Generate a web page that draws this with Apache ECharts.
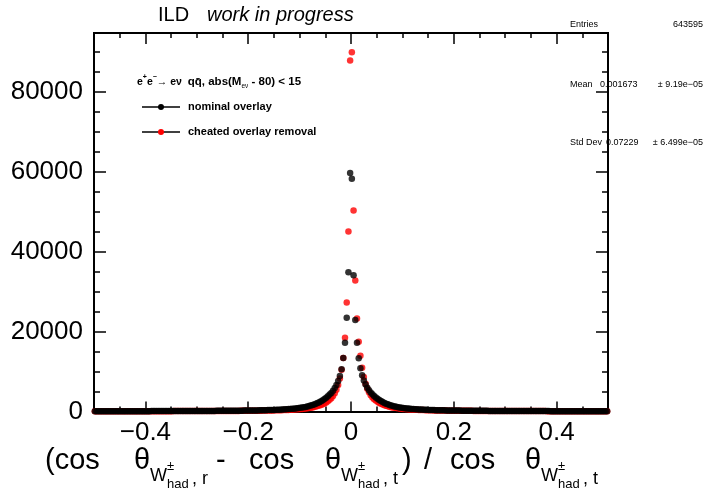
<!DOCTYPE html>
<html>
<head>
<meta charset="utf-8">
<script src="https://cdn.jsdelivr.net/npm/echarts@6/dist/echarts.min.js"></script>
<style>
html,body{margin:0;padding:0;background:#fff;}
#chart{width:705px;height:490px;}
</style>
</head>
<body>
<div id="chart"></div>
<script>
// Histogram binning: 300 bins over [-0.5, 0.5]
const nBins = 300;
const xLow = -0.5;
const xHigh = 0.5;

// Tick labels
const xTickValues = [-0.4, -0.2, 0, 0.2, 0.4];
const yTickValues = [0, 20000, 40000, 60000, 80000];

// "nominal overlay" (black) — counts going outward from x=0
const blackNegFromCenter = [
59600, 34800, 23450, 17200, 13400, 10550, 8900, 7650, 6650, 5850,
5200, 4650, 4220, 3830, 3460, 3130, 2830, 2570, 2330, 2120,
1930, 1760, 1610, 1480, 1360, 1250, 1155, 1070, 995, 925,
862, 806, 756, 710, 668, 630, 596, 564, 535, 509,
484, 462, 441, 422, 404, 387, 372, 358, 344, 332,
320, 309, 299, 289, 280, 272, 264, 256, 249, 242,
236, 230, 224, 218, 213, 208, 203, 199, 194, 190,
186, 182, 178, 175, 171, 168, 165, 162, 159, 156,
153, 151, 148, 146, 143, 141, 139, 136, 134, 132,
130, 128, 126, 125, 123, 121, 119, 118, 116, 115,
113, 112, 110, 109, 108, 106, 105, 104, 103, 101,
100, 99, 98, 97, 96, 95, 94, 93, 92, 91,
90, 89, 88, 88, 87, 86, 85, 84, 84, 83,
82, 81, 81, 80, 79, 79, 78, 77, 77, 76,
75, 75, 74, 74, 73, 72, 72, 71, 71, 70];
const blackPosFromCenter = [
58200, 34050, 22900, 17200, 13300, 10800, 9050, 7750, 6750, 5950,
5300, 4750, 4300, 3900, 3520, 3180, 2870, 2600, 2360, 2150,
1960, 1790, 1640, 1500, 1380, 1270, 1170, 1085, 1010, 940,
875, 820, 768, 722, 680, 641, 606, 574, 545, 518,
493, 470, 449, 429, 411, 394, 378, 364, 350, 337,
325, 314, 303, 293, 284, 275, 267, 259, 252, 245,
238, 232, 226, 220, 215, 210, 205, 200, 196, 191,
187, 183, 179, 176, 172, 169, 166, 163, 160, 157,
154, 151, 149, 146, 144, 141, 139, 137, 135, 133,
131, 129, 127, 125, 123, 121, 120, 118, 116, 115,
113, 112, 110, 109, 107, 106, 105, 103, 102, 101,
100, 98, 97, 96, 95, 94, 93, 92, 91, 90,
89, 88, 87, 86, 85, 85, 84, 83, 82, 81,
81, 80, 79, 78, 78, 77, 76, 76, 75, 74,
74, 73, 72, 72, 71, 71, 70, 69, 69, 68];

// "cheated overlay removal" (red) — counts going outward from x=0
const redNegFromCenter = [
87700, 45000, 27250, 18450, 13400, 10450, 8250, 6650, 5450, 4550,
3870, 3340, 2920, 2570, 2280, 2030, 1820, 1640, 1480, 1345,
1225, 1120, 1028, 946, 873, 808, 750, 698, 651, 609,
571, 537, 506, 478, 452, 428, 406, 386, 368, 351,
336, 321, 308, 296, 284, 273, 263, 254, 245, 237,
229, 222, 215, 209, 203, 197, 192, 187, 182, 177,
173, 169, 165, 161, 158, 155, 152, 149, 146, 143,
140, 138, 136, 133, 131, 129, 127, 125, 123, 122,
120, 118, 117, 115, 114, 112, 111, 110, 108, 107,
106, 105, 104, 103, 102, 101, 100, 99, 98, 97,
96, 95, 94, 94, 93, 92, 91, 91, 90, 89,
89, 88, 87, 87, 86, 85, 85, 84, 84, 83,
83, 82, 81, 81, 80, 80, 79, 79, 78, 78,
77, 77, 77, 76, 76, 75, 75, 74, 74, 74,
73, 73, 72, 72, 72, 71, 71, 71, 70, 70];
const redPosFromCenter = [
89800, 50250, 32750, 23250, 17450, 13950, 10950, 8650, 6950, 5700,
4780, 4080, 3530, 3080, 2720, 2410, 2150, 1930, 1740, 1570,
1430, 1300, 1190, 1090, 1005, 930, 862, 801, 746, 697,
652, 612, 576, 543, 513, 486, 461, 438, 417, 398,
380, 363, 348, 334, 321, 309, 297, 287, 277, 268,
259, 251, 243, 236, 229, 223, 217, 211, 206, 201,
196, 191, 187, 183, 179, 175, 171, 168, 165, 162,
159, 156, 153, 150, 148, 145, 143, 141, 139, 137,
135, 133, 131, 129, 127, 126, 124, 122, 121, 119,
118, 117, 115, 114, 113, 111, 110, 109, 108, 107,
106, 105, 104, 103, 102, 101, 100, 99, 98, 97,
96, 95, 95, 94, 93, 92, 92, 91, 90, 89,
89, 88, 87, 87, 86, 85, 85, 84, 84, 83,
82, 82, 81, 81, 80, 80, 79, 79, 78, 78,
77, 77, 76, 76, 75, 75, 74, 74, 73, 73];

// Stats box
const statsEntries = "643595";
const statsMean = ["0.001673", "\u00b1 9.19e\u221205"];
const statsStd = ["0.07229", "\u00b1 6.499e\u221205"];

function toPoints(neg, pos) {
  const counts = neg.slice().reverse().concat(pos);
  const w = (xHigh - xLow) / nBins;
  return counts.map((c, i) => [xLow + (i + 0.5) * w, c]);
}
const blackData = toPoints(blackNegFromCenter, blackPosFromCenter);
const redData = toPoints(redNegFromCenter, redPosFromCenter);

const minorX = [];
for (let k = -9; k <= 9; k++) minorX.push(Math.round(k * 5) / 100);
const minorY = [];
for (let v = 0; v <= 90000; v += 5000) minorY.push(v);

const FONT = '"Liberation Sans", Arial, Helvetica, sans-serif';
const fmtMinus = v => (v < 0 ? '\u2212' + String(Math.abs(v)) : String(v));

function tickAxis(dim, pos, values, len, opts) {
  const base = {
    type: 'value',
    position: pos,
    min: dim === 'x' ? xLow : 0,
    max: dim === 'x' ? xHigh : 94600,
    gridIndex: 0,
    axisLine: { show: true, onZero: false, lineStyle: { color: '#000', width: 2 } },
    axisTick: { show: true, inside: true, length: len, customValues: values,
                lineStyle: { color: '#000', width: 1.5 } },
    axisLabel: { show: false },
    splitLine: { show: false },
    silent: true
  };
  return Object.assign(base, opts || {});
}

const xAxes = [
  tickAxis('x', 'bottom', xTickValues, 10, {
    axisLabel: { show: true, customValues: xTickValues, formatter: fmtMinus,
                 fontSize: 26, color: '#000', fontFamily: FONT, margin: 8 }
  }),
  tickAxis('x', 'bottom', minorX, 5),
  tickAxis('x', 'top', xTickValues, 11),
  tickAxis('x', 'top', minorX, 5)
];
const yAxes = [
  tickAxis('y', 'left', yTickValues, 12, {
    axisLabel: { show: true, customValues: yTickValues, formatter: v => String(v),
                 fontSize: 26, color: '#000', fontFamily: FONT, margin: 11 }
  }),
  tickAxis('y', 'left', minorY, 6),
  tickAxis('y', 'right', yTickValues, 12),
  tickAxis('y', 'right', minorY, 6)
];

const graphics = [];
function txt(x, y, text, size, extra) {
  graphics.push({
    type: 'text', x: x, y: y, silent: true,
    style: Object.assign({ text: text, fontSize: size, fontFamily: FONT, fill: '#000',
                           align: 'left', verticalAlign: 'middle' }, extra || {})
  });
}
// Title
txt(158, 15, 'ILD', 20);
txt(207, 15, 'work in progress', 20, { fontStyle: 'italic' });

// Stats box
txt(570, 25, 'Entries', 9);
txt(703, 25, statsEntries, 9, { align: 'right' });
txt(570, 85, 'Mean', 9);
txt(600, 85, statsMean[0], 9);
txt(703, 85, statsMean[1], 9, { align: 'right' });
txt(570, 143, 'Std Dev', 9);
txt(606, 143, statsStd[0], 9);
txt(703, 143, statsStd[1], 9, { align: 'right' });

// Legend header
graphics.push({
  type: 'text', x: 137, y: 82, silent: true,
  style: {
    text: '{n|e}{sup|+}{n|e}{sup|\u2212}{n|\u2192 e\u03bd  }{b|q}{b|q\u0304}{b|, abs(M}{sub|e\u03bd}{b| - 80) < 15}',
    verticalAlign: 'middle', fontFamily: FONT,
    rich: {
      n: { fontSize: 10.5, fontWeight: 'bold', fontFamily: FONT, fill: '#000', lineHeight: 16, verticalAlign: 'middle' },
      b: { fontSize: 11.5, fontWeight: 'bold', fontFamily: FONT, fill: '#000', lineHeight: 16, verticalAlign: 'middle' },
      sup: { fontSize: 7, fontWeight: 'bold', fontFamily: FONT, fill: '#000', lineHeight: 16, verticalAlign: 'top' },
      sub: { fontSize: 6.5, fontFamily: FONT, fill: '#000', lineHeight: 16, verticalAlign: 'bottom' }
    }
  }
});
// Legend entries
function legendEntry(y, color, label) {
  graphics.push({ type: 'line', silent: true, shape: { x1: 142, y1: y, x2: 180, y2: y },
                  style: { stroke: '#000', lineWidth: 1.5 } });
  graphics.push({ type: 'circle', silent: true, shape: { cx: 161, cy: y, r: 3 },
                  style: { fill: color } });
  txt(188, y, label, 11, { fontWeight: 'bold' });
}
legendEntry(107, '#000', 'nominal overlay');
legendEntry(132, '#ff0000', 'cheated overlay removal');

// X axis title
const mainY = 461;
const mainSize = 29;
function thetaW(x, tail) {
  txt(x, mainY, '\u03b8', mainSize);
  txt(x + 16, 476, 'W', 18);
  txt(x + 33, 466, '\u00b1', 13);
  txt(x + 33, 484, 'had', 13);
  txt(x + 58, 479, tail, 18);
}
txt(45, mainY, '(cos', mainSize);
thetaW(134, ', r');
txt(216, mainY, '-', mainSize);
txt(249, mainY, 'cos', mainSize);
thetaW(325, ', t');
txt(402, mainY, ')', mainSize);
txt(424, mainY, '/', mainSize);
txt(450, mainY, 'cos', mainSize);
thetaW(525, ', t');

const option = {
  animation: false,
  backgroundColor: '#fff',
  grid: { left: 94, right: 97, top: 33, bottom: 78.5, containLabel: false, outerBoundsMode: 'none' },
  xAxis: xAxes,
  yAxis: yAxes,
  series: [
    { name: 'cheated overlay removal', type: 'scatter', data: redData, symbol: 'circle', symbolSize: 6.5,
      itemStyle: { color: '#ff0000' }, silent: true, xAxisIndex: 0, yAxisIndex: 0 },
    { name: 'nominal overlay', type: 'scatter', data: blackData, symbol: 'circle', symbolSize: 6.5,
      itemStyle: { color: '#000000' }, silent: true, xAxisIndex: 0, yAxisIndex: 0 }
  ],
  graphic: graphics
};

const chart = echarts.init(document.getElementById('chart'), null, { renderer: 'canvas' });
chart.setOption(option);
</script>
</body>
</html>
